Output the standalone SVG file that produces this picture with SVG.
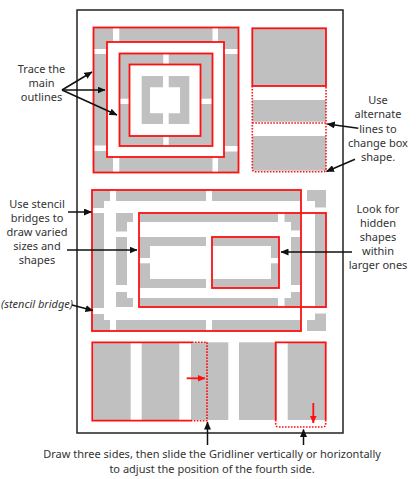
<svg xmlns="http://www.w3.org/2000/svg" width="416" height="479" viewBox="0 0 416 479">
<defs>
<style>
.g{fill:#c0c0c0;fill-rule:evenodd}
.w{fill:#fff}
.r{fill:none;stroke:#ff1010;stroke-width:1.8}
.rd{fill:none;stroke:#ff1010;stroke-width:1.6;stroke-dasharray:1.6 1.4}
.frame{fill:none;stroke:#222;stroke-width:1.5}
.c{fill:none;stroke:#111;stroke-width:1.5;marker-end:url(#ah)}
.cr{fill:none;stroke:#ff1010;stroke-width:1.8;marker-end:url(#ahr)}
text{font-family:"Noto Sans","DejaVu Sans",sans-serif;font-size:11px;fill:#333;text-anchor:middle}
.it{font-style:italic}
</style>
<marker id="ah" markerUnits="userSpaceOnUse" markerWidth="8" markerHeight="7" refX="7.5" refY="3.5" orient="auto"><path d="M0,0 L8,3.5 L0,7 Z" fill="#111"/></marker>
<marker id="ahr" markerUnits="userSpaceOnUse" markerWidth="8" markerHeight="7" refX="7.5" refY="3.5" orient="auto"><path d="M0,0 L8,3.5 L0,7 Z" fill="#ff1010"/></marker>
</defs>
<rect width="416" height="479" fill="#fff"/>
<g id="frame"><rect class="frame" x="77" y="10" width="266" height="423"/></g>

<g id="nested-squares">
<path class="g" d="M93.5,27.5 H238.5 V172.5 H93.5 Z M107,42 V157 H224 V42 Z"/>
<rect class="w" x="113" y="27.5" width="6.3" height="14.5"/>
<rect class="w" x="212.5" y="27.5" width="5.5" height="14.5"/>
<rect class="w" x="113" y="157" width="6.3" height="15.5"/>
<rect class="w" x="212.5" y="157" width="5.5" height="15.5"/>
<rect class="w" x="93.5" y="49" width="13.5" height="5"/>
<rect class="w" x="93.5" y="145.5" width="13.5" height="5.5"/>
<rect class="w" x="224" y="49" width="14.5" height="5"/>
<rect class="w" x="224" y="146" width="14.5" height="5.5"/>
<path class="g" d="M119.5,53.5 H212.5 V146 H119.5 Z M129.5,64.5 V136 H200.5 V64.5 Z"/>
<rect class="w" x="163.3" y="53.5" width="5.4" height="11"/>
<rect class="w" x="163.3" y="136" width="5.4" height="10"/>
<rect class="w" x="119.5" y="98.7" width="10" height="5.3"/>
<rect class="w" x="200.5" y="98.7" width="12" height="5.3"/>
<path class="g" d="M141.7,76 H163 V87.3 H150 V113.3 H163 V124 H141.7 Z"/>
<path class="g" d="M168.7,76 H189.3 V124 H168.7 V113.3 H180 V87.3 H168.7 Z"/>
<rect class="r" x="93.5" y="27.5" width="145" height="145"/>
<rect class="r" x="107" y="42" width="117" height="115"/>
<rect class="r" x="119.5" y="53.5" width="93" height="92.5"/>
<rect class="r" x="129.5" y="64.5" width="71" height="71.5"/>
</g>

<g id="alternate-lines">
<rect class="g" x="252.3" y="28.3" width="73.7" height="57.7"/>
<rect class="g" x="252.3" y="100" width="73.7" height="21.7"/>
<rect class="g" x="252.3" y="136" width="73.7" height="34.7"/>
<rect class="r" x="252.3" y="28.3" width="73.7" height="57.7"/>
<path class="rd" d="M252.3,86 V168.7 Q252.3,171.7 255.3,171.7 H323 Q326,171.7 326,168.7 V86"/>
<path class="rd" d="M252.3,123 H326"/>
</g>

<g id="stencil-bridges">
<path class="g" d="M92,190 H326 V331 H92 Z M104,201 V320 H315 V201 Z"/>
<rect class="w" x="110" y="189" width="6" height="12.5"/>
<rect class="w" x="206" y="189" width="6" height="12.5"/>
<rect class="w" x="301" y="189" width="6" height="12.5"/>
<rect class="w" x="110" y="319.5" width="6" height="12.5"/>
<rect class="w" x="206" y="319.5" width="6" height="12.5"/>
<rect class="w" x="301" y="319.5" width="6" height="12.5"/>
<rect class="w" x="91" y="208" width="13.5" height="5"/>
<rect class="w" x="91" y="308" width="13.5" height="6"/>
<rect class="w" x="314.5" y="207.5" width="12.5" height="5.5"/>
<rect class="w" x="314.5" y="308" width="12.5" height="5.5"/>
<path class="g" d="M116,213 H300 V307 H116 Z M127,222 V298 H291 V222 Z"/>
<rect class="w" x="133" y="212.5" width="7" height="10"/>
<rect class="w" x="278" y="212.5" width="6.5" height="10"/>
<rect class="w" x="133" y="297.5" width="7" height="10"/>
<rect class="w" x="278" y="297.5" width="6.5" height="10"/>
<rect class="w" x="115.5" y="231.5" width="12" height="5.5"/>
<rect class="w" x="115.5" y="285" width="12" height="7"/>
<rect class="w" x="290.5" y="230.5" width="10" height="6.5"/>
<rect class="w" x="290.5" y="285" width="10" height="7"/>
<path class="g" d="M139,237 H279 V288 H139 Z M150,246 V279 H271 V246 Z"/>
<rect class="w" x="206" y="236.5" width="6" height="10"/>
<rect class="w" x="206" y="278.5" width="6" height="10"/>
<rect class="w" x="138.5" y="258" width="12" height="5.3"/>
<rect class="w" x="270.5" y="258" width="9" height="5.3"/>
<rect class="r" x="92" y="190" width="209" height="141"/>
<rect class="r" x="139" y="213" width="187" height="94"/>
<rect class="r" x="212" y="237" width="67" height="51"/>
</g>

<g id="sliding-gridliner">
<rect class="g" x="93.3" y="342.3" width="37.4" height="77.7"/>
<rect class="g" x="141.7" y="342.3" width="37.6" height="77.7"/>
<rect class="g" x="191" y="342.3" width="37.3" height="77.7"/>
<rect class="g" x="239" y="342.3" width="37.7" height="77.7"/>
<rect class="g" x="287.7" y="342.3" width="38" height="77.7"/>
<path class="r" d="M192,342.3 H92.3 V420.7 H192"/>
<path class="rd" d="M192,342.3 H207 V420.7 H192"/>
<path class="r" d="M275.7,420 V342.3 H325.7 V420"/>
<path class="rd" d="M275.7,420 V424 Q275.7,427 278.7,427 H322.7 Q325.7,427 325.7,424 V420"/>
</g>

<g id="label-trace">
<text x="41.5" y="73.3">Trace the</text>
<text x="41.5" y="87">main</text>
<text x="41.5" y="100.8">outlines</text>
</g>
<g id="label-alternate">
<text x="378" y="104">Use</text>
<text x="378" y="118.3">alternate</text>
<text x="378" y="132.5">lines to</text>
<text x="378" y="146.7">change box</text>
<text x="378" y="160.8">shape.</text>
</g>
<g id="label-stencil">
<text x="37" y="208.3">Use stencil</text>
<text x="37" y="222.3">bridges to</text>
<text x="37" y="236.2">draw varied</text>
<text x="37" y="250">sizes and</text>
<text x="37" y="263.8">shapes</text>
</g>
<g id="label-bridge"><text class="it" x="37" y="307.5">(stencil bridge)</text></g>
<g id="label-hidden">
<text x="378" y="213.3">Look for</text>
<text x="378" y="227.3">hidden</text>
<text x="378" y="241.2">shapes</text>
<text x="378" y="255.2">within</text>
<text x="378" y="269.3">larger ones</text>
</g>
<g id="label-slide">
<text x="212" y="457.7">Draw three sides, then slide the Gridliner vertically or horizontally</text>
<text x="212" y="472.5">to adjust the position of the fourth side.</text>
</g>

<g id="connectors">
<line class="c" x1="62" y1="90" x2="92" y2="72"/>
<line class="c" x1="62" y1="90" x2="105" y2="90"/>
<line class="c" x1="62" y1="90" x2="117" y2="115"/>
<line class="c" x1="358.3" y1="128.3" x2="327.3" y2="124"/>
<line class="c" x1="355" y1="159.3" x2="326.5" y2="171.5"/>
<line class="c" x1="68" y1="212" x2="91.5" y2="212"/>
<line class="c" x1="67" y1="250" x2="137" y2="250"/>
<line class="c" x1="72" y1="305" x2="93" y2="310.5"/>
<line class="c" x1="352" y1="252" x2="281" y2="252"/>
<line class="c" x1="207.5" y1="445" x2="207.5" y2="422"/>
<line class="c" x1="303.5" y1="445" x2="303.5" y2="429.5"/>
<line class="cr" x1="186.7" y1="378.3" x2="205" y2="378.3"/>
<line class="cr" x1="313.3" y1="403" x2="313.3" y2="423"/>
</g>
</svg>
